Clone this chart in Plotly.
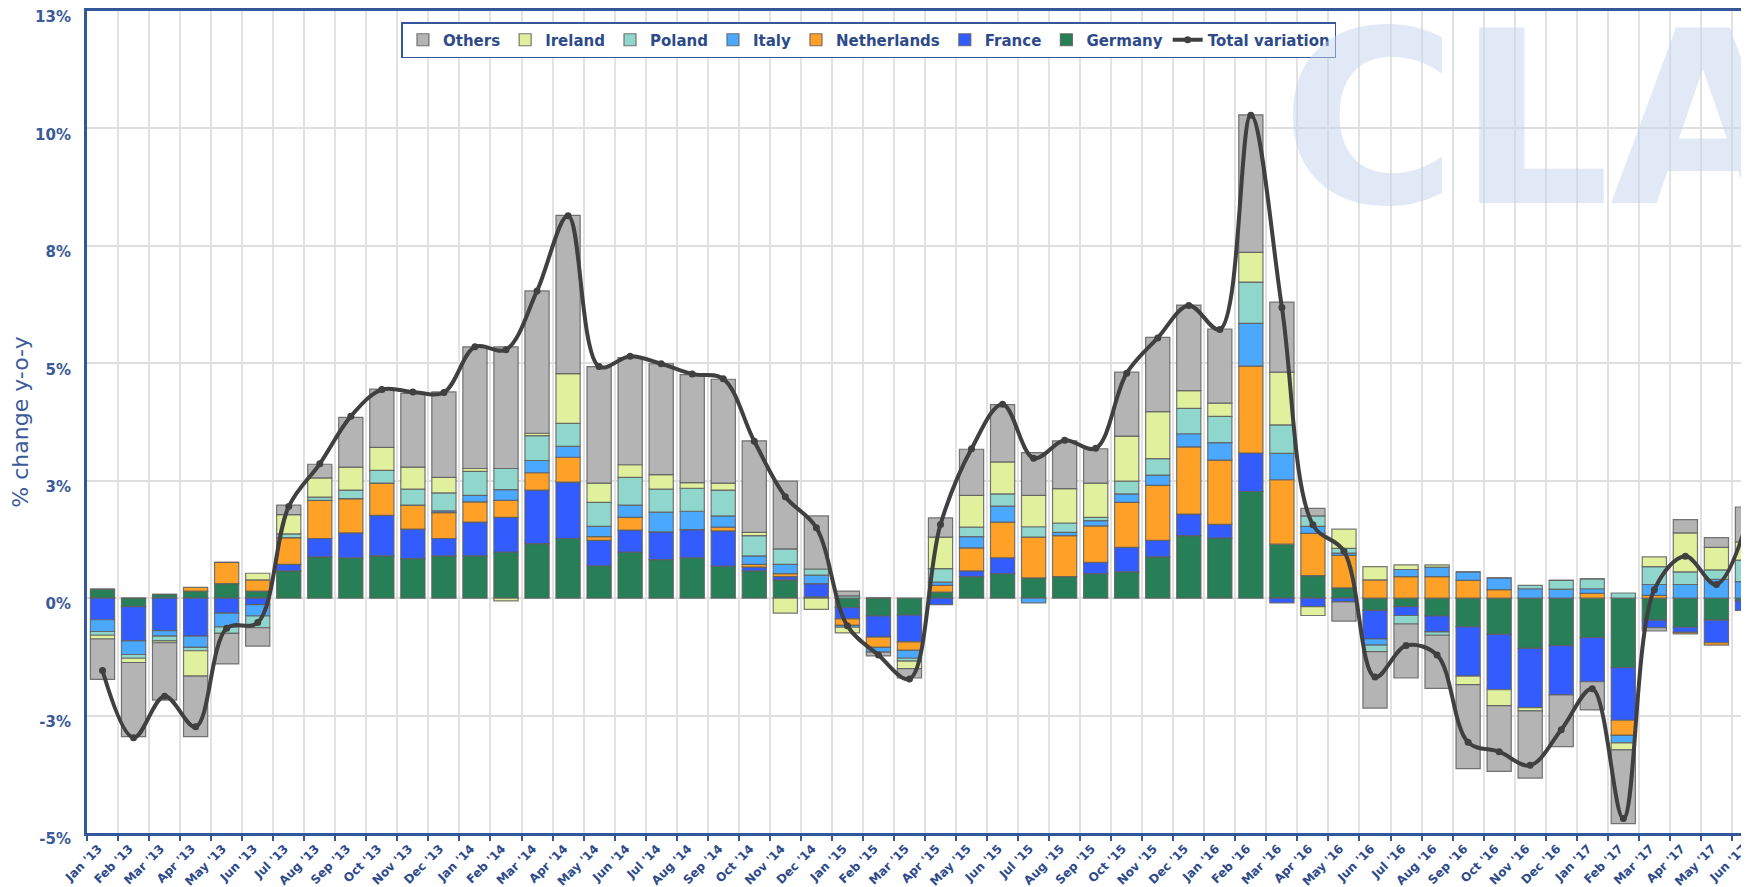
import plotly.graph_objects as go

months = ["Jan '13", "Feb '13", "Mar '13", "Apr '13", "May '13", "Jun '13", "Jul '13", "Aug '13", "Sep '13", "Oct '13", "Nov '13", "Dec '13",
          "Jan '14", "Feb '14", "Mar '14", "Apr '14", "May '14", "Jun '14", "Jul '14", "Aug '14", "Sep '14", "Oct '14", "Nov '14", "Dec '14",
          "Jan '15", "Feb '15", "Mar '15", "Apr '15", "May '15", "Jun '15", "Jul '15", "Aug '15", "Sep '15", "Oct '15", "Nov '15", "Dec '15",
          "Jan '16", "Feb '16", "Mar '16", "Apr '16", "May '16", "Jun '16", "Jul '16", "Aug '16", "Sep '16", "Oct '16", "Nov '16", "Dec '16",
          "Jan '17", "Feb '17", "Mar '17", "Apr '17", "May '17", "Jun '17"]

germany = [0.19, -0.18, 0.08, 0.15, 0.31, 0.15, 0.58, 0.88, 0.86, 0.90, 0.84, 0.90, 0.90, 0.98, 1.16, 1.27, 0.69, 0.98,
           0.82, 0.86, 0.68, 0.58, 0.39, 0.03, -0.20, -0.38, -0.36, 0.13, 0.46, 0.52, 0.43, 0.46, 0.52, 0.56, 0.88, 1.33,
           1.28, 2.27, 1.15, 0.48, 0.22, -0.26, -0.18, -0.38, -0.61, -0.77, -1.07, -1.01, -0.84, -1.48, -0.47, -0.62, -0.47, -0.06]
france = [-0.46, -0.73, -0.69, -0.81, -0.32, -0.14, 0.14, 0.39, 0.53, 0.86, 0.63, 0.37, 0.72, 0.74, 1.14, 1.20, 0.54, 0.47,
          0.59, 0.60, 0.75, 0.08, 0.07, 0.28, -0.24, -0.45, -0.57, -0.14, 0.12, 0.34, 0.0, 0.0, 0.24, 0.52, 0.35, 0.46,
          0.29, 0.82, -0.10, -0.18, -0.08, -0.61, -0.19, -0.34, -1.05, -1.18, -1.26, -1.05, -0.94, -1.12, -0.16, -0.11, -0.48, -0.20]
netherlands = [0.0, 0.0, 0.0, 0.08, 0.45, 0.24, 0.57, 0.81, 0.73, 0.69, 0.51, 0.55, 0.43, 0.36, 0.37, 0.53, 0.08, 0.27,
               0.0, 0.0, 0.08, 0.06, 0.06, 0.0, -0.14, -0.22, -0.18, 0.14, 0.49, 0.76, 0.87, 0.87, 0.78, 0.96, 1.17, 1.43,
               1.37, 1.85, 1.37, 0.90, 0.69, 0.39, 0.46, 0.46, 0.38, 0.18, 0.0, 0.0, 0.10, -0.32, 0.06, -0.03, -0.05, 0.0]
italy = [-0.25, -0.29, -0.12, -0.24, -0.29, -0.24, 0.0, 0.0, 0.0, 0.0, 0.0, 0.04, 0.14, 0.23, 0.26, 0.23, 0.22, 0.26,
         0.42, 0.39, 0.24, 0.18, 0.20, 0.18, -0.04, -0.10, -0.17, 0.07, 0.24, 0.34, -0.10, 0.07, 0.11, 0.18, 0.22, 0.28,
         0.37, 0.91, 0.56, 0.15, 0.05, -0.13, 0.15, 0.20, 0.18, 0.25, 0.20, 0.19, 0.10, -0.16, 0.23, 0.29, 0.40, 0.35]
poland = [-0.08, -0.08, -0.10, -0.07, -0.14, -0.25, 0.08, 0.07, 0.18, 0.27, 0.34, 0.38, 0.51, 0.45, 0.53, 0.49, 0.51, 0.59,
          0.49, 0.49, 0.55, 0.43, 0.33, 0.13, 0.05, 0.0, -0.06, 0.29, 0.20, 0.26, 0.22, 0.20, 0.07, 0.27, 0.35, 0.54,
          0.56, 0.88, 0.61, 0.22, 0.10, -0.14, -0.18, -0.07, 0.0, 0.0, 0.07, 0.19, 0.21, 0.11, 0.38, 0.27, 0.20, 0.46]
ireland = [-0.08, -0.09, -0.04, -0.54, 0.0, 0.14, 0.41, 0.41, 0.49, 0.49, 0.47, 0.33, 0.06, -0.06, 0.05, 1.06, 0.41, 0.27,
           0.31, 0.12, 0.15, 0.07, -0.32, -0.24, -0.12, 0.0, -0.16, 0.67, 0.68, 0.68, 0.67, 0.73, 0.73, 0.96, 1.00, 0.38,
           0.28, 0.63, 1.12, -0.19, 0.41, 0.28, 0.10, 0.05, -0.18, -0.34, -0.07, 0.0, 0.0, -0.15, 0.21, 0.83, 0.48, 0.39]
others = [-0.86, -1.58, -1.22, -1.29, -0.65, -0.39, 0.20, 0.29, 1.06, 1.24, 1.57, 1.82, 2.59, 2.59, 3.03, 3.37, 2.48, 2.28,
          2.36, 2.30, 2.21, 1.95, 1.44, 1.13, 0.10, -0.08, -0.20, 0.41, 0.98, 1.22, 0.91, 1.02, 0.73, 1.36, 1.58, 1.82,
          1.58, 2.93, 1.49, 0.16, -0.41, -1.20, -1.15, -1.13, -1.79, -1.40, -1.43, -1.10, -0.60, -1.57, -0.07, 0.28, 0.21, 0.74]
total = [-1.54, -2.97, -2.09, -2.74, -0.64, -0.52, 1.95, 2.86, 3.87, 4.44, 4.39, 4.38, 5.35, 5.29, 6.54, 8.14, 4.93, 5.15,
         4.99, 4.77, 4.67, 3.34, 2.16, 1.50, -0.59, -1.21, -1.72, 1.57, 3.18, 4.13, 2.98, 3.36, 3.19, 4.79, 5.54, 6.23,
         5.72, 10.28, 6.19, 1.56, 1.00, -1.68, -1.01, -1.21, -3.07, -3.27, -3.56, -2.80, -1.93, -4.69, 0.18, 0.89, 0.29, 1.65]

y_tickvals = [-5, -2.5, 0, 2.5, 5, 7.5, 10, 12.5]
y_ticktext = ["-5%", "-3%", "0%", "3%", "5%", "8%", "10%", "13%"]

series = [
    ("Germany", germany, "#267f56"),
    ("France", france, "#335cff"),
    ("Netherlands", netherlands, "#ffa126"),
    ("Italy", italy, "#4aa8ff"),
    ("Poland", poland, "#8fd6cc"),
    ("Ireland", ireland, "#e0f09c"),
    ("Others", others, "#b4b4b4"),
]

BLUE = "#34569a"
LBLUE = "#3b5a9a"
FONT = "DejaVu Sans"

fig = go.Figure()
fig.add_trace(go.Scatter(
    x=months, y=total, name="Total variation", mode="lines+markers",
    line=dict(color="#404040", width=4, shape="spline", smoothing=1.0),
    marker=dict(color="#404040", size=7),
))
for name, vals, col in series:
    fig.add_trace(go.Bar(
        x=months, y=vals, name=name,
        marker=dict(color=col, line=dict(color="rgba(95,95,95,0.85)", width=1.2)),
    ))

# watermark logo text
fig.add_annotation(
    text="<b>CLAL</b>", xref="paper", yref="paper", x=0.717, y=0.868, xanchor="left", yanchor="middle",
    showarrow=False, font=dict(family=FONT, size=240, color="rgba(195,210,238,0.5)"),
)

# page body has an 8px default margin: figure is sized so it ends at the window edge
fig.update_layout(
    width=1741, height=879,
    margin=dict(l=79, r=0, t=3, b=54),
    barmode="relative", bargap=0.22,
    plot_bgcolor="white", paper_bgcolor="white",
    font=dict(family=FONT, color=BLUE),
    legend=dict(
        orientation="h", traceorder="reversed", x=0.4705, xanchor="center", y=0.9866, yanchor="top",
        bgcolor="white", bordercolor=BLUE, borderwidth=1.5,
        font=dict(family=FONT, size=15, color="#2d4a8a", weight="bold"),
        itemclick=False,
    ),
    showlegend=True,
)
fig.update_xaxes(
    type="category", range=[-0.5, 53.05], tickson="boundaries", showgrid=True,
    gridcolor="#e2e2e2", gridwidth=1.5, automargin=False,
    showline=True, linecolor=BLUE, linewidth=3, mirror=True,
    ticks="outside", ticklen=5, tickcolor=BLUE, tickwidth=1.5,
    ticklabelstandoff=1, ticklabelshift=-4,
    tickangle=-45, tickfont=dict(family=FONT, size=12, color="#2d4a8a", weight="bold"),
)
fig.update_yaxes(
    range=[-5, 12.5], tickvals=y_tickvals, ticktext=y_ticktext, automargin=False,
    showgrid=True, gridcolor="#dedede", gridwidth=1.5, zeroline=False,
    showline=True, linecolor=BLUE, linewidth=3,
    ticklabelstandoff=10, ticklabelshift=6, ticklabeloverflow="allow",
    tickfont=dict(family=FONT, size=15, color=LBLUE, weight="bold"),
    title=dict(text="% change y-o-y", font=dict(family=FONT, size=22, color=LBLUE), standoff=14),
)

fig.write_html("out.html")
